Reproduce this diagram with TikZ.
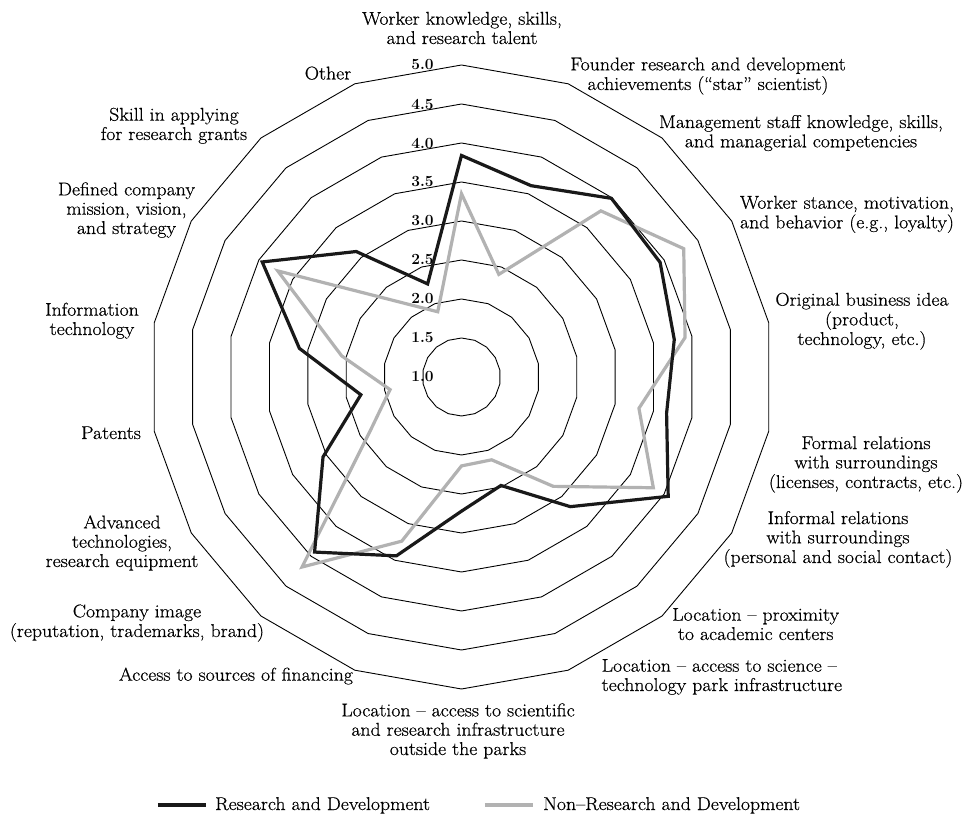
\documentclass[tikz,border=0pt]{standalone}
\usepackage{fontspec}
\newfontfamily\lmwide{Latin Modern Roman}[FakeStretch=1.07,FakeBold=0.5]
\newcommand\lbfont{\lmwide\fontsize{18.5}{19.3}\selectfont}
\newcommand\numfont{\fontsize{15.5}{15.5}\selectfont\bfseries}
\begin{document}
\begin{tikzpicture}[x=1pt,y=1pt,
  ring/.style={line width=0.9pt, black},
  rd/.style={line width=3.2pt, black!90, line join=miter},
  nrd/.style={line width=3.2pt, black!30, line join=miter},
  lab/.style={inner sep=0pt, font=\lbfont},
  num/.style={inner sep=0pt, font=\numfont}]
\fill[white] (-461.5,-439) rectangle (500.5,377);
\useasboundingbox (-461.5,-439) rectangle (500.5,377);
% rings
\foreach \i in {1,...,8}{
  \draw[ring] (90:{39*\i}) \foreach \k in {1,...,17}{ -- ({90-20*\k}:{39*\i}) } -- cycle;
}
% ring values
\foreach \t [count=\i from 0] in {1.0,1.5,2.0,2.5,3.0,3.5,4.0,4.5,5.0}{
  \node[num] (n\i) at (-39,{39*\i}) {\t};
}
% data
\foreach \v [count=\k from 0] in {3.35,2.40,3.78,4.29,3.91,3.31,3.84,2.83,2.13,2.14,3.24,4.18,2.34,1.93,2.56,3.72,2.26,1.89}{
  \coordinate (g\k) at ({90-20*\k}:{78*(\v-1)});
}
\foreach \v [count=\k from 0] in {3.84,3.61,3.99,3.94,3.77,3.67,4.06,3.17,2.48,2.72,3.44,3.93,3.05,2.31,3.11,3.95,3.10,2.27}{
  \coordinate (b\k) at ({90-20*\k}:{78*(\v-1)});
}
\draw[nrd] (g0) \foreach \k in {1,...,17}{ -- (g\k) } -- cycle;
\draw[rd] (b0) \foreach \k in {1,...,17}{ -- (b\k) } -- cycle;
% axis labels
\node[lab, anchor=base] (a0) at (0.5,333) {\begin{tabular}[b]{@{}c@{}}Worker knowledge, skills,\\and research talent\end{tabular}};
\node[lab, anchor=base] (a1) at (246.5,287) {\begin{tabular}[b]{@{}c@{}}Founder research and development\\achievements (“star” scientist)\end{tabular}};
\node[lab, anchor=base] (a2) at (339.5,229.7) {\begin{tabular}[b]{@{}c@{}}Management staff knowledge, skills,\\and managerial competencies\end{tabular}};
\node[lab, anchor=base] (a3) at (385.5,148.7) {\begin{tabular}[b]{@{}c@{}}Worker stance, motivation,\\and behavior (e.g., loyalty)\end{tabular}};
\node[lab, anchor=base] (a4) at (400.5,32) {\begin{tabular}[b]{@{}c@{}}Original business idea\\(product,\\technology, etc.)\end{tabular}};
\node[lab, anchor=base] (a5) at (404.5,-111) {\begin{tabular}[b]{@{}c@{}}Formal relations\\with surroundings\\(licenses, contracts, etc.)\end{tabular}};
\node[lab, anchor=base] (a6) at (376.5,-186) {\begin{tabular}[b]{@{}c@{}}Informal relations\\with surroundings\\(personal and social contact)\end{tabular}};
\node[lab, anchor=base] (a7) at (294.2,-263) {\begin{tabular}[b]{@{}c@{}}Location – proximity\\to academic centers\end{tabular}};
\node[lab, anchor=base west] (a8) at (140,-314) {\begin{tabular}[b]{@{}l@{}}Location – access to science –\\technology park infrastructure\end{tabular}};
\node[lab, anchor=base] (a9) at (-3.5,-378) {\begin{tabular}[b]{@{}c@{}}Location – access to scientific\\and research infrastructure\\outside the parks\end{tabular}};
\node[lab, anchor=base] (a10) at (-225.5,-303.7) {Access to sources of financing};
\node[lab, anchor=base] (a11) at (-324.5,-260) {\begin{tabular}[b]{@{}c@{}}Company image\\(reputation, trademarks, brand)\end{tabular}};
\node[lab, anchor=base] (a12) at (-339.5,-190) {\begin{tabular}[b]{@{}c@{}}Advanced\\technologies,\\research equipment\end{tabular}};
\node[lab, anchor=base] (a13) at (-350.5,-62) {Patents};
\node[lab, anchor=base] (a14) at (-369.5,42) {\begin{tabular}[b]{@{}c@{}}Information\\technology\end{tabular}};
\node[lab, anchor=base] (a15) at (-335,143) {\begin{tabular}[b]{@{}c@{}}Defined company\\mission, vision,\\and strategy\end{tabular}};
\node[lab, anchor=base] (a16) at (-287.5,237) {\begin{tabular}[b]{@{}c@{}}Skill in applying\\for research grants\end{tabular}};
\node[lab, anchor=base] (a17) at (-133.5,297.5) {Other};
% legend
\coordinate (k1) at (-303.5,-428);
\coordinate (k2) at (-255.5,-428);
\coordinate (k3) at (23.5,-428);
\coordinate (k4) at (71.5,-428);
\draw[rd] (k1) -- (k2);
\draw[nrd] (k3) -- (k4);
\node[lab, anchor=base west] (t1) at (-246.5,-433) {Research and Development};
\node[lab, anchor=base west] (t2) at (81.5,-433) {Non–Research and Development};
\end{tikzpicture}
\end{document}
